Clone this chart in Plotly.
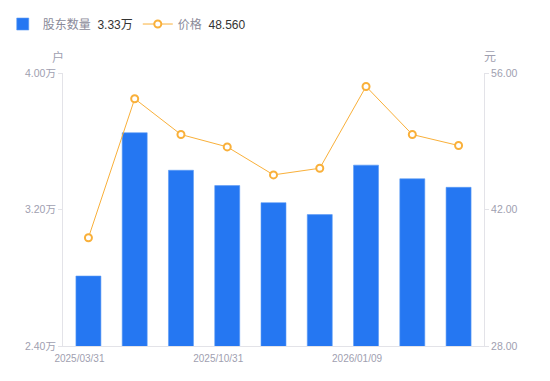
import plotly.graph_objects as go

dates = ["2025/03/31", "2025/06/30", "2025/09/30", "2025/10/31", "2025/11/28",
         "2025/12/31", "2026/01/09", "2026/01/20", "2026/01/30"]
holders_wan = [2.81, 3.65, 3.43, 3.34, 3.24, 3.17, 3.46, 3.38, 3.33]
price = [39.10, 53.36, 49.69, 48.42, 45.55, 46.23, 54.62, 49.69, 48.56]

x_tick_idx = [0, 3, 6]
left_ticks = [2.40, 3.20, 4.00]
right_ticks = [28.00, 42.00, 56.00]

GREY = "#a0a0b0"
AXIS = "#e3e3e8"
FONT = "Liberation Sans, Noto Sans CJK SC, sans-serif"

fig = go.Figure()
fig.add_trace(go.Bar(
    x=dates, y=holders_wan,
    name="股东数量  <span style='color:#333333'>%.2f万</span>" % holders_wan[-1],
    marker=dict(color="#2577F2", line=dict(color="#5b9af5", width=0.6)),
    width=0.54,
    yaxis="y",
))
fig.add_trace(go.Scatter(
    x=dates, y=price, mode="lines+markers",
    name="价格  <span style='color:#333333'>%.3f</span>" % price[-1],
    line=dict(color="#F9B03A", width=1),
    marker=dict(symbol="circle", size=7, color="white",
                line=dict(color="#F9B03A", width=2)),
    yaxis="y2",
))

fig.update_layout(
    width=550, height=381,
    margin=dict(l=63, r=66, t=73, b=35, autoexpand=False),
    paper_bgcolor="white", plot_bgcolor="white",
    font=dict(family=FONT, size=11, color=GREY),
    showlegend=True,
    legend=dict(orientation="h", xref="container", yref="container",
                x=0.005, y=0.975, xanchor="left", yanchor="top",
                font=dict(size=12, color="#8a8a99"),
                itemwidth=30, traceorder="normal"),
    xaxis=dict(
        type="category",
        tickmode="array",
        tickvals=[dates[i] for i in x_tick_idx],
        ticktext=[dates[i] for i in x_tick_idx],
        showline=True, linecolor=AXIS, linewidth=1,
        showgrid=False, ticks="", zeroline=False, automargin=False,
        ticklabelshift=-9, ticklabelstandoff=3,
        tickfont=dict(size=10, color=GREY),
    ),
    yaxis=dict(
        range=[2.4, 4.0],
        tickmode="array",
        tickvals=left_ticks,
        ticktext=["%.2f万" % v for v in left_ticks],
        showline=True, linecolor=AXIS, linewidth=1,
        ticks="outside", ticklen=4, tickcolor=AXIS,
        showgrid=False, zeroline=False, automargin=False,
        tickfont=dict(size=10.5, color=GREY),
    ),
    yaxis2=dict(
        range=[28, 56],
        overlaying="y", side="right",
        tickmode="array",
        tickvals=right_ticks,
        ticktext=["%.2f" % v for v in right_ticks],
        showline=True, linecolor=AXIS, linewidth=1,
        ticks="outside", ticklen=4, tickcolor=AXIS,
        showgrid=False, zeroline=False, automargin=False,
        tickfont=dict(size=10.5, color=GREY),
    ),
    annotations=[
        dict(text="户", xref="paper", yref="paper", x=-0.012, y=1.0,
             yshift=16, xanchor="center", yanchor="middle", showarrow=False,
             font=dict(size=12, color=GREY)),
        dict(text="元", xref="paper", yref="paper", x=1.015, y=1.0,
             yshift=16, xanchor="center", yanchor="middle", showarrow=False,
             font=dict(size=12, color=GREY)),
    ],
)

fig.write_html("out.html",
               config={"displayModeBar": False},
               post_script="document.body.style.margin='0';document.body.style.overflow='hidden';")
